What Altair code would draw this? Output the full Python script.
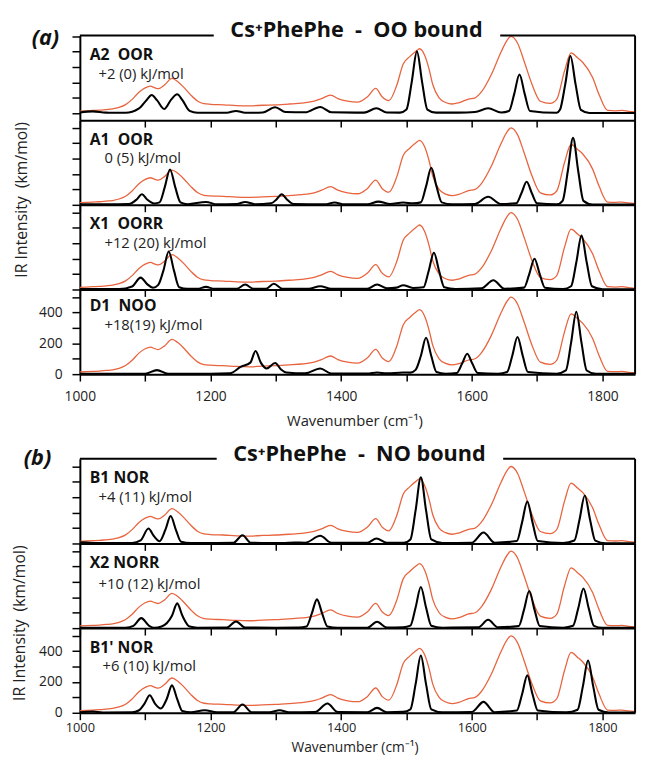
import altair as alt
import pandas as pd

# ---------------- data ----------------
# experimental IRMPD trace (orange), wavenumber / intensity
exp_points = [(1000,14),(1010,16),(1020,18),(1030,20),(1040,24),(1050,28),(1060,38),(1070,56),(1080,90),(1090,135),
              (1100,165),(1108,176),(1115,165),(1120,160),(1130,185),(1141,226),(1150,205),(1160,165),(1170,118),(1180,80),
              (1190,62),(1200,58),(1220,55),(1240,50),(1260,48),(1280,52),(1300,55),(1320,60),(1340,66),(1360,80),
              (1370,95),(1384,118),(1395,95),(1410,78),(1425,72),(1440,105),(1453,161),(1463,105),(1473,82),(1485,180),
              (1495,320),(1505,368),(1515,405),(1520,419),(1528,375),(1535,280),(1540,190),(1550,100),(1560,70),(1570,60),
              (1580,68),(1595,92),(1605,100),(1615,140),(1630,252),(1645,400),(1655,480),(1660,500),(1670,456),(1680,340),
              (1692,190),(1705,78),(1720,64),(1730,90),(1742,275),(1752,392),(1762,360),(1770,330),(1785,232),(1795,120),
              (1808,18),(1820,16),(1830,18),(1840,12),(1850,8)]

# computed spectra (black)
a2_points = [(1000,5),(1020,12),(1040,4),(1070,3),(1090,30),(1102,85),(1110,118),(1118,85),(1129,28),(1140,90),
             (1149,123),(1157,85),(1168,15),(1180,3),(1225,3),(1239,15),(1253,3),(1280,5),(1299,39),(1315,8),
             (1345,6),(1368,41),(1385,6),(1435,4),(1454,32),(1470,5),(1490,4),(1500,24),(1508,201),(1516,402),
             (1524,201),(1532,24),(1545,4),(1580,4),(1605,8),(1625,32),(1645,5),(1657,15),(1665,126),(1673,252),
             (1681,126),(1689,15),(1730,3),(1735,22),(1743,186),(1751,372),(1759,186),(1767,22),(1780,2),(1850,2)]
a1_points = [(1000,3),(1040,3),(1075,5),(1087,35),(1095,69),(1103,35),(1114,9),(1122,16),(1130,115),(1138,230),
             (1146,115),(1154,16),(1165,4),(1193,19),(1210,3),(1240,5),(1253,19),(1268,4),(1293,10),(1301,35),
             (1309,69),(1317,35),(1327,5),(1375,3),(1390,15),(1405,3),(1440,3),(1457,21),(1475,5),(1495,15),
             (1510,10),(1522,16),(1530,120),(1538,241),(1546,120),(1554,16),(1570,3),(1605,6),(1625,52),(1645,5),
             (1668,10),(1676,75),(1684,150),(1692,75),(1700,10),(1730,3),(1739,26),(1747,218),(1755,435),(1763,218),
             (1771,26),(1785,2),(1850,2)]
x1_points = [(1000,3),(1060,3),(1080,20),(1093,77),(1103,35),(1112,11),(1120,30),(1128,124),(1136,247),(1144,124),
             (1152,15),(1165,4),(1180,4),(1193,17),(1206,4),(1240,4),(1253,32),(1266,4),(1285,5),(1297,37),
             (1310,5),(1350,4),(1368,21),(1385,4),(1440,4),(1455,32),(1470,8),(1485,12),(1495,28),(1510,10),
             (1526,14),(1534,120),(1542,239),(1550,120),(1558,14),(1575,3),(1615,8),(1633,60),(1650,5),(1680,12),
             (1688,100),(1696,200),(1704,100),(1712,12),(1740,3),(1752,21),(1760,175),(1768,350),(1776,175),(1784,21),
             (1800,2),(1850,2)]
d1_points = [(1000,3),(1100,3),(1118,26),(1135,3),(1200,3),(1230,6),(1246,47),(1261,75),(1269,150),(1277,75),
             (1286,37),(1299,73),(1308,30),(1316,11),(1345,5),(1368,37),(1385,4),(1440,4),(1455,11),(1470,5),
             (1495,11),(1506,10),(1514,28),(1522,118),(1530,236),(1538,118),(1546,14),(1560,3),(1577,8),(1585,67),
             (1593,133),(1601,67),(1609,8),(1640,3),(1654,14),(1662,120),(1670,241),(1678,120),(1686,14),(1730,3),
             (1744,24),(1752,203),(1760,406),(1768,203),(1776,24),(1790,2),(1850,2)]
b1_points = [(1000,8),(1010,6),(1030,3),(1080,3),(1093,20),(1105,97),(1113,50),(1122,15),(1131,90),(1139,178),
             (1147,89),(1155,11),(1170,3),(1235,4),(1249,54),(1262,4),(1310,3),(1329,6),(1345,5),(1368,50),
             (1385,5),(1440,4),(1454,32),(1470,5),(1496,4),(1506,26),(1514,215),(1522,430),(1530,215),(1538,26),
             (1555,3),(1600,5),(1618,71),(1635,5),(1669,16),(1677,137),(1685,273),(1693,137),(1701,16),(1740,3),
             (1757,19),(1765,156),(1773,312),(1781,156),(1789,19),(1805,2),(1850,2)]
x2_points = [(1000,3),(1070,3),(1082,15),(1094,65),(1106,15),(1114,2),(1125,10),(1141,80),(1149,161),(1157,80),
             (1168,10),(1180,3),(1225,4),(1239,43),(1253,4),(1300,3),(1335,4),(1347,11),(1355,94),(1363,187),
             (1371,94),(1379,11),(1395,3),(1440,3),(1455,41),(1470,4),(1495,6),(1506,16),(1514,134),(1522,267),
             (1530,134),(1538,16),(1555,3),(1610,5),(1625,54),(1640,5),(1672,14),(1680,120),(1688,241),(1696,120),
             (1704,14),(1740,3),(1755,15),(1763,129),(1771,258),(1779,129),(1787,15),(1800,2),(1850,2)]
b1p_points = [(1000,3),(1020,8),(1035,2),(1080,3),(1090,15),(1099,60),(1107,114),(1115,60),(1124,28),(1133,90),
              (1141,178),(1149,89),(1157,11),(1170,3),(1191,17),(1210,3),(1235,4),(1249,54),(1263,4),(1290,3),
              (1306,17),(1320,3),(1360,5),(1379,60),(1395,5),(1440,4),(1455,32),(1470,4),(1495,6),(1506,22),
              (1514,186),(1522,372),(1530,186),(1538,22),(1555,3),(1600,5),(1618,71),(1635,4),(1669,15),(1677,121),
              (1685,243),(1693,121),(1701,15),(1745,3),(1762,20),(1770,170),(1778,340),(1786,170),(1794,20),(1810,2),
              (1850,2)]

panel_names = ["A2\u00a0 OOR", "A1\u00a0 OOR", "X1\u00a0 OORR", "D1\u00a0 NOO", "B1 NOR", "X2 NORR", "B1' NOR"]
panel_energies = ["+2 (0) kJ/mol", "0 (5) kJ/mol", "+12 (20) kJ/mol", "+18(19) kJ/mol",
                  "+4 (11) kJ/mol", "+10 (12) kJ/mol", "+6 (10) kJ/mol"]
group_tags = ["(a)", "(b)"]
group_titles = ["Cs\u207aPhePhe\u00a0 -\u00a0 OO bound", "Cs\u207aPhePhe\u00a0 -\u00a0 NO bound"]
x_tick_values = [1000, 1100, 1200, 1300, 1400, 1500, 1600, 1700, 1800]
y_tick_values = [0, 100, 200, 300, 400, 500]
x_title = "Wavenumber (cm\u207b\u00b9)"
y_title = "IR Intensity\u00a0 (km/mol)"

# ---------------- style ----------------
FONT = "Open Sans"
W, H = 564, 86
ORANGE = "#E8643F"
ONE = pd.DataFrame({"k": [0]})


def to_df(points):
    return pd.DataFrame(points, columns=["wn", "v"])


def panel(i, points, ydom, bottom=None, sub_x=20, name_y=20, sub_y=39,
          top=None, ytitle=None):
    xaxis_kw = dict(values=x_tick_values, tickSize=7, tickWidth=1.5, tickColor="black",
                    domainColor="black", domainWidth=2, grid=False, labels=bottom is not None)
    if bottom is not None:
        pad, ty, lsize, tsize = bottom
        xaxis_kw.update(labelExpr="datum.value % 200 == 0 ? datum.label : ''", format="d",
                        labelFont=FONT, labelFontSize=lsize, labelColor="#222", labelPadding=pad,
                        labelFlush=False, labelOverlap=False,
                        title=x_title, titleFont=FONT, titleFontSize=tsize, titleFontWeight="normal",
                        titleColor="#222", titleY=ty, titleX=279, titleBaseline="middle")
    else:
        xaxis_kw.update(title=None)
    yaxis_kw = dict(values=y_tick_values, tickSize=8, tickWidth=1.5, tickColor="black",
                    domainColor="black", domainWidth=2, grid=False, labels=bottom is not None,
                    title=None)
    if bottom is not None:
        yaxis_kw.update(labelExpr="datum.value % 200 == 0 ? datum.label : ''", format="d",
                        labelFont=FONT, labelFontSize=14, labelColor="#222", labelPadding=10,
                        labelFlush=False, labelOverlap=False)
    xenc = alt.X("wn:Q", scale=alt.Scale(domain=[1000, 1850], nice=False, zero=False),
                 axis=alt.Axis(**xaxis_kw))
    yenc = alt.Y("v:Q", scale=alt.Scale(domain=ydom, nice=False, zero=False),
                 axis=alt.Axis(**yaxis_kw))

    exp_line = alt.Chart(to_df(exp_points)).mark_line(
        color=ORANGE, strokeWidth=1.3, interpolate="monotone").encode(x=xenc, y=yenc)
    calc_line = alt.Chart(to_df(points)).mark_line(
        color="black", strokeWidth=2.1, interpolate="monotone").encode(x=xenc, y=yenc)

    right = alt.Chart(ONE).mark_rule(color="black", strokeWidth=2).encode(
        x=alt.value(W), y=alt.value(0), y2=alt.value(H))
    name = alt.Chart(ONE).mark_text(align="left", baseline="middle", font=FONT, fontSize=16,
                                    fontWeight="bold", color="#111").encode(
        x=alt.value(10), y=alt.value(name_y), text=alt.value(panel_names[i]))
    energy = alt.Chart(ONE).mark_text(align="left", baseline="middle", font=FONT, fontSize=15,
                                      color="#222").encode(
        x=alt.value(sub_x), y=alt.value(sub_y), text=alt.value(panel_energies[i]))
    layers = [exp_line, calc_line, right, name, energy]

    if top is not None:
        g, cx, gap0, gap1, tag_x, tag_y = top
        layers.append(alt.Chart(ONE).mark_rule(color="black", strokeWidth=2).encode(
            x=alt.value(0), x2=alt.value(gap0), y=alt.value(0)))
        layers.append(alt.Chart(ONE).mark_rule(color="black", strokeWidth=2).encode(
            x=alt.value(gap1), x2=alt.value(W), y=alt.value(0)))
        layers.append(alt.Chart(ONE).mark_text(align="center", baseline="alphabetic", font=FONT,
                                               fontSize=22, fontWeight="bold", color="#111").encode(
            x=alt.value(cx), y=alt.value(2), text=alt.value(group_titles[g])))
        layers.append(alt.Chart(ONE).mark_text(align="center", baseline="middle", font=FONT,
                                               fontSize=22, fontWeight="bold", fontStyle="italic",
                                               color="#111").encode(
            x=alt.value(tag_x), y=alt.value(tag_y), text=alt.value(group_tags[g])))
        if g == 0:
            # invisible anchor fixing the top-left extent of the whole figure
            layers.append(alt.Chart(ONE).mark_rule(opacity=0, strokeWidth=1).encode(
                x=alt.value(-73), x2=alt.value(-72), y=alt.value(-22)))
    if ytitle is not None:
        tx, ty = ytitle
        layers.append(alt.Chart(ONE).mark_text(align="center", baseline="middle", font=FONT,
                                               fontSize=16, angle=270, color="#222").encode(
            x=alt.value(tx), y=alt.value(ty), text=alt.value(y_title)))

    return alt.layer(*layers).properties(width=W, height=H)


p_a2 = panel(0, a2_points, [-45, 505], sub_x=19, top=(0, 281, 136, 427, -35, 3))
p_a1 = panel(1, a1_points, [0, 550], sub_x=25, ytitle=(-59, 81))
p_x1 = panel(2, x1_points, [0, 550], sub_x=25)
p_d1 = panel(3, d1_points, [0, 550], bottom=(9, 47, 14, 15), sub_x=25, name_y=17, sub_y=36)
spacer = alt.Chart(ONE).mark_point(opacity=0).encode(
    x=alt.value(0), y=alt.value(0)).properties(width=W, height=86)
p_b1 = panel(4, b1_points, [0, 550], sub_x=19, top=(1, 284, 139, 430, -43, -1))
p_x2 = panel(5, x2_points, [0, 550], sub_x=19, sub_y=41, ytitle=(-61, 81))
p_b1p = panel(6, b1p_points, [0, 550], bottom=(2, 35, 13, 14), sub_x=23)

chart = alt.VConcatChart(
    vconcat=[p_a2, p_a1, p_x1, p_d1, spacer, p_b1, p_x2, p_b1p],
    spacing=0, bounds="flush",
).properties(
    padding={"left": 0, "top": 0, "right": 0, "bottom": 0},
    background="white",
).configure_view(stroke=None)

chart.save("out.html", embed_options={"renderer": "svg", "actions": False})
